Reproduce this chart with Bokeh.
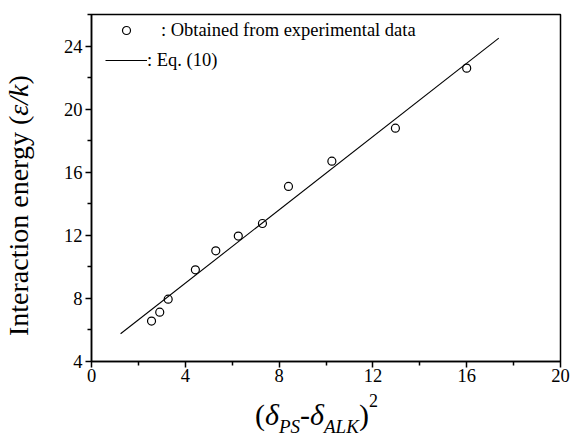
from bokeh.plotting import figure
from bokeh.models import Range1d, FixedTicker, Legend, LegendItem, Div
from bokeh.layouts import row, column
from bokeh.embed import file_html
from bokeh.resources import INLINE

# ---- data ----
exp_x = [2.56, 2.91, 3.27, 4.43, 5.30, 6.26, 7.29, 8.40, 10.25, 12.96, 16.00]
exp_y = [6.56, 7.13, 7.95, 9.81, 11.02, 11.95, 12.75, 15.10, 16.70, 18.79, 22.60]
eq_x = [1.24, 17.37]
eq_y = [5.76, 24.50]
x_ticks = [0, 4, 8, 12, 16, 20]
x_minor = [2, 6, 10, 14, 18]
y_ticks = [4, 8, 12, 16, 20, 24]
y_minor = [6, 10, 14, 18, 22, 26]
legend_labels = ["\u00a0\u00a0\u00a0: Obtained from experimental data", ": Eq. (10)"]

FONT = "Liberation Serif"

p = figure(width=532, height=392, output_backend="svg", toolbar_location=None,
           x_range=Range1d(0, 20), y_range=Range1d(4, 26),
           min_border_left=51, min_border_right=12, min_border_top=14,
           min_border_bottom=31)
p.background_fill_color = "white"
p.border_fill_color = "white"
p.outline_line_color = "black"
p.outline_line_width = 1.5
p.xgrid.visible = False
p.ygrid.visible = False

p.xaxis.ticker = FixedTicker(ticks=x_ticks, minor_ticks=x_minor)
p.yaxis.ticker = FixedTicker(ticks=y_ticks, minor_ticks=y_minor)
for ax in (p.xaxis[0], p.yaxis[0]):
    ax.axis_line_color = "black"
    ax.axis_line_width = 1.5
    ax.major_tick_line_color = "black"
    ax.major_tick_line_width = 1.5
    ax.minor_tick_line_color = "black"
    ax.minor_tick_line_width = 1.5
    ax.major_tick_in = 0
    ax.major_tick_out = 6
    ax.minor_tick_in = 0
    ax.minor_tick_out = 4
    ax.major_label_text_font = FONT
    ax.major_label_text_font_size = "18.5px"
    ax.major_label_text_color = "black"
p.xaxis.major_label_standoff = 1
p.yaxis.major_label_standoff = 3

r_pts = p.scatter(exp_x, exp_y, marker="circle", size=8, fill_color=None,
                  line_color="black", line_width=1.2)
r_line = p.line(eq_x, eq_y, line_color="black", line_width=1.1)

legend = Legend(items=[LegendItem(label=legend_labels[0], renderers=[r_pts]),
                       LegendItem(label=legend_labels[1], renderers=[r_line])],
                location=(14, 286), glyph_width=42, glyph_height=20,
                label_height=30, label_standoff=0, spacing=0, padding=0,
                margin=0, border_line_color=None, background_fill_alpha=0,
                label_text_font=FONT, label_text_font_size="18.5px",
                label_text_color="black")
p.add_layout(legend)

# y-axis title (rotated HTML text): Interaction energy (ε/k)
y_html = (
    '<div style="position:relative; left:5px; top:324px; width:0; height:0; overflow:visible;">'
    '<div style="position:absolute; left:0; top:0; transform-origin:0 0; '
    'transform:rotate(-90deg); white-space:nowrap; font-family:\'Liberation Serif\'; '
    'font-size:28px; line-height:28px; color:black;">'
    'Interaction energy (<i>\u03b5/k</i>)</div></div>'
)
ydiv = Div(text=y_html, width=40, height=437, margin=(0, 0, 0, 0))

# x-axis title (HTML text): (δ_PS - δ_ALK)^2
sub = 'position:relative; top:8px; font-size:19px; font-style:italic;'
sup = 'position:relative; top:-18px; font-size:18px;'
x_html = (
    '<div style="position:relative; left:215px; top:8px; white-space:nowrap; '
    'font-family:\'Liberation Serif\'; font-size:30px; line-height:30px; color:black;">'
    '(<i>\u03b4</i><span style="' + sub + '">PS</span>-<i>\u03b4</i>'
    '<span style="' + sub + '">ALK</span>)<span style="' + sup + '">2</span></div>'
)
xdiv = Div(text=x_html, width=532, height=45, margin=(0, 0, 0, 0))

layout = row(ydiv, column(p, xdiv, spacing=0), spacing=0)

open("out.html", "w").write(file_html(layout, INLINE))
